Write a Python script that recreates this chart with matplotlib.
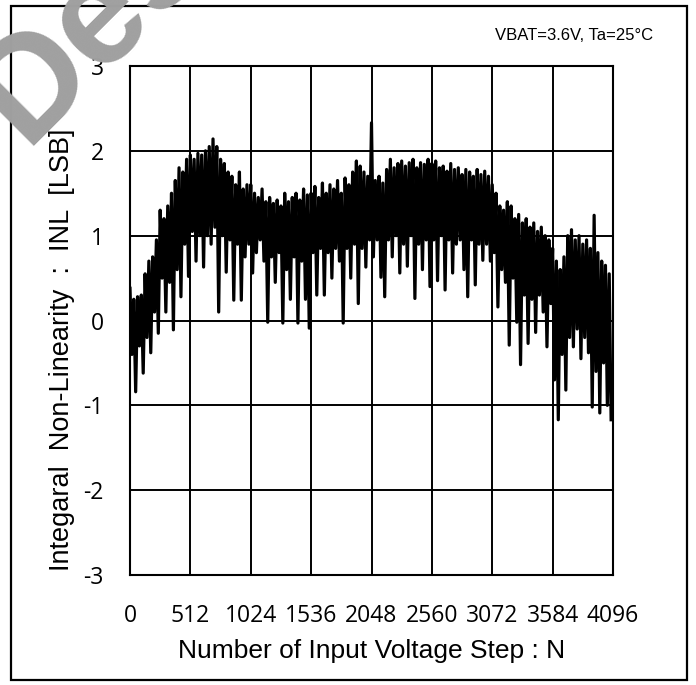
import numpy as np
import matplotlib
matplotlib.use("Agg")
import matplotlib.pyplot as plt
from matplotlib.patches import Rectangle

# INL: local maxima (at N = 0, 32, 64, ...) and
# local minima (at N = 16, 48, 80, ...), in LSB
inl_peaks = [
    0.38, 0.25, 0.28, 0.30, 0.55, 0.70, 0.75, 0.95, 1.30, 1.20, 1.35, 1.50, 1.65, 1.80, 1.75, 1.90,
    1.95, 1.90, 1.97, 1.95, 2.00, 2.05, 2.14, 2.05, 1.90, 1.85, 1.75, 1.70, 1.60, 1.75, 1.55, 1.60,
    1.60, 1.50, 1.45, 1.55, 1.40, 1.45, 1.38, 1.42, 1.35, 1.50, 1.40, 1.45, 1.50, 1.42, 1.55, 1.48,
    1.50, 1.58, 1.45, 1.62, 1.50, 1.60, 1.55, 1.65, 1.50, 1.68, 1.60, 1.75, 1.88, 1.82, 1.75, 1.70,
    2.33, 1.65, 1.70, 1.62, 1.78, 1.90, 1.80, 1.85, 1.88, 1.82, 1.86, 1.90, 1.80, 1.86, 1.84, 1.90,
    1.85, 1.88, 1.80, 1.82, 1.76, 1.85, 1.78, 1.80, 1.72, 1.78, 1.75, 1.70, 1.78, 1.72, 1.76, 1.70,
    1.60, 1.50, 1.35, 1.30, 1.40, 1.35, 1.20, 1.25, 1.15, 1.20, 1.10, 1.15, 1.05, 1.10, 1.00, 0.95,
    0.85, 0.70, 0.60, 0.75, 1.00, 1.07, 0.95, 1.00, 0.90, 0.95, 0.85, 1.24, 0.80, 0.70, 0.65, 0.55,
]
inl_dips = [
    -0.40, -0.84, -0.30, -0.62, -0.20, -0.38, 0.10, -0.15, 0.50, 0.10, 0.45, -0.11, 0.60, 0.28, 0.90, 0.52,
    1.05, 0.70, 1.00, 0.63, 1.00, 0.90, 1.10, 0.10, 1.00, 0.57, 0.95, 0.24, 0.90, 0.24, 0.75, 0.90,
    0.56, 0.80, 0.95, 0.70, -0.02, 0.75, 0.45, 0.80, -0.03, 0.60, 0.25, 0.75, -0.03, 0.70, 0.25, -0.09,
    0.80, 0.30, 0.85, 0.30, 0.80, 0.50, 0.85, 0.70, -0.03, 0.85, 0.50, 0.90, 0.20, 0.85, 0.63, 0.95,
    0.75, 0.95, 0.51, 0.28, 0.95, 0.75, 1.00, 0.56, 0.90, 0.64, 1.00, 0.26, 0.90, 0.60, 0.95, 0.40,
    0.95, 0.47, 1.00, 0.36, 0.95, 0.56, 0.90, 0.95, 0.60, 0.28, 0.95, 0.42, 0.90, 0.71, 0.90, 0.70,
    0.80, 0.16, 0.60, 0.45, -0.29, 0.50, -0.02, -0.52, 0.30, -0.27, 0.25, -0.14, 0.30, 0.10, -0.31, 0.20,
    -0.70, -1.17, -0.40, -0.82, -0.20, -0.31, -0.10, -0.45, -0.20, -0.38, -1.02, -0.60, -1.09, -0.50, -1.00, -1.17,
]
step_n = np.arange(0, 4096, 16)
inl = np.column_stack((inl_peaks, inl_dips)).ravel()

x_ticks = [0, 512, 1024, 1536, 2048, 2560, 3072, 3584, 4096]
y_ticks = [-3, -2, -1, 0, 1, 2, 3]

plt.rcParams['axes.unicode_minus'] = False

W, H = 696, 685
fig = plt.figure(figsize=(W / 100, H / 100), dpi=100)
ax = fig.add_axes([130 / W, 1 - 575 / H, (613 - 130) / W, (575 - 66) / H])

ax.plot(step_n, inl, color='black', lw=2.3, zorder=3)

ax.set_xlim(0, 4096)
ax.set_ylim(-3, 3)
ax.set_xticks(x_ticks)
ax.set_yticks(y_ticks)
ax.grid(True, color='black', lw=1.4)
ax.set_axisbelow(True)
for s in ax.spines.values():
    s.set_linewidth(1.5)
ax.tick_params(length=0)
ax.tick_params(axis='x', pad=21)
ax.tick_params(axis='y', pad=19)
for lab in ax.get_xticklabels() + ax.get_yticklabels():
    lab.set_family('Open Sans')
    lab.set_fontsize(16.5)

ax.set_xlabel('Number of Input Voltage Step : N', family='Liberation Sans',
              fontsize=19, labelpad=8)
ax.set_ylabel('Integaral  Non-Linearity  :  INL  [LSB]', family='Liberation Sans',
              fontsize=19.5)
ax.yaxis.set_label_coords(62 / W, 1 - 350 / H, transform=fig.transFigure)
ax.yaxis.label.set_va('center')

fig.text(653 / W, 1 - 35 / H, 'VBAT=3.6V, Ta=25°C', family='Liberation Sans',
         fontsize=12, ha='right', va='center')

# outer frame
fig.patches.append(Rectangle((11 / W, 1 - 680 / H), (687 - 11) / W, (680 - 6) / H,
                             transform=fig.transFigure, fill=False,
                             edgecolor='black', lw=1.6, zorder=5))

# watermark (cut by the picture edge, as in the source)
fig.text(24 / W, 1 - 146 / H, 'Design', family='Liberation Sans', weight='bold',
         fontsize=104, color='#a0a0a0', rotation=45, rotation_mode='anchor',
         ha='left', va='baseline', zorder=10)

fig.savefig('out.png', dpi=100)
